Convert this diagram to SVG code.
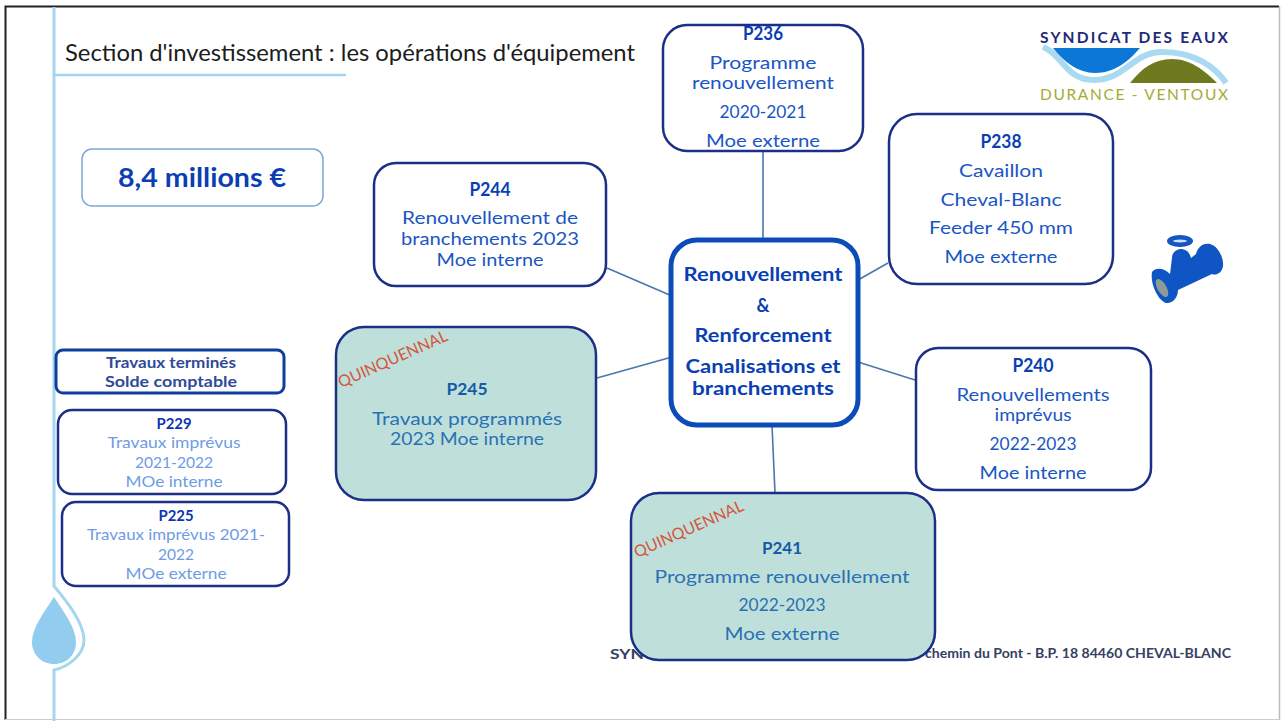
<svg xmlns="http://www.w3.org/2000/svg" width="1283" height="721" viewBox="0 0 1283 721">
<style>
text{font-family:"Lato","Liberation Sans",sans-serif;text-anchor:middle}
.box{fill:#fff;stroke:#1b2f86;stroke-width:2.5}
.green{fill:#bfe0da;stroke:#1b2f86;stroke-width:2.5}
.t{font-size:17.5px;fill:#1a56c4}
.h{font-size:18px;font-weight:700;fill:#0a3fb4}
.g{font-size:17.5px;fill:#2a71b4}
.gh{font-size:17px;font-weight:700;fill:#155aa8}
.s{font-size:15px;fill:#6f9be6}
.sh{font-size:15.5px;font-weight:700;fill:#0a35b4}
.c{font-size:18px;font-weight:700;fill:#0a3fb4}
.q{font-size:16px;fill:#d4573f}
.conn{stroke:#4a77ad;stroke-width:1.6;fill:none}
</style>
<rect width="1283" height="721" fill="#fff"/>
<g id="frame" fill="none">
<path d="M5.500 720V6.500H1279" stroke="#222" stroke-width="2"/>
<path d="M1279.500 6V720" stroke="#bbb" stroke-width="1.500"/>
<path d="M5 719.500H1280" stroke="#ccc" stroke-width="1"/>
</g>
<g id="decor">
<path d="M54 7V586C64 598 84 622 84 640C84 655 68 667 54 670V721" fill="none" stroke="#a5d6ef" stroke-width="3"/>
<path d="M54 75H346" fill="none" stroke="#a5d6ef" stroke-width="2.500"/>
<path d="M54 597C44 612 32 628 32 642C32 655 42 664 54 664C67 664 76 655 76 642C76 628 64 612 54 597Z" fill="#92cdf0"/>
</g>
<text x="350" y="61" style="font-size:23px;fill:#1c1c1c" textLength="570" lengthAdjust="spacingAndGlyphs">Section d'investissement : les opérations d'équipement</text>
<g id="logo">
<path d="M1043 47C1062 54 1066 80 1093 80C1126 80 1132 52 1162 52C1196 52 1216 68 1226 83" fill="none" stroke="#a9daf2" stroke-width="6"/>
<path d="M1053 48H1140C1128 62 1114 73 1095 73C1078 73 1064 62 1053 48Z" fill="#0b78d8"/>
<path d="M1130 83C1142 68 1154 59 1172 59C1190 59 1204 70 1217 83Z" fill="#6f7a1e"/>
<text x="1134" y="43" textLength="188" style="font-size:15.500px;font-weight:700;fill:#1f2a7a">SYNDICAT DES EAUX</text>
<text x="1134" y="100" textLength="188" style="font-size:15.500px;fill:#a5ab33">DURANCE - VENTOUX</text>
</g>
<g id="valve">
<ellipse cx="1180" cy="241" rx="13" ry="6" fill="#1456c4"/>
<ellipse cx="1180" cy="241" rx="7" ry="1.500" fill="#cfe0f7"/>
<path d="M1152 272C1156 267 1164 268 1170 274L1172 258C1172 251 1178 249 1182 249C1188 250 1190 254 1191 258L1196 254C1198 246 1204 243 1210 244C1218 246 1224 258 1223 266C1222 273 1216 276 1212 274L1178 290C1178 298 1172 304 1166 303C1158 300 1150 284 1152 272Z" fill="#0f55c4"/>
<ellipse cx="1162" cy="288" rx="4.500" ry="10" transform="rotate(-30 1162 288)" fill="#8e9a96"/>
</g>
<g id="connectors" class="conn">
<path d="M763 151V240"/>
<path d="M607 268L672 296"/>
<path d="M888 263L858 280"/>
<path d="M597 378L672 357"/>
<path d="M915 380L858 362"/>
<path d="M772 425L775 493"/>
</g>
<g id="legend-value"><rect x="82" y="149" width="241" height="57" rx="10" fill="#fff" stroke="#7ea6d6" stroke-width="1.500"/>
<text x="202" y="187" textLength="168" lengthAdjust="spacingAndGlyphs" style="font-size:26px;font-weight:700;fill:#0a3fb4">8,4  millions €</text></g>
<g id="P236"><rect class="box" x="663" y="25" width="200" height="126" rx="24"/>
<text class="h" x="763" y="40" textLength="40" lengthAdjust="spacingAndGlyphs">P236</text><text class="t" x="763" y="69" textLength="107" lengthAdjust="spacingAndGlyphs">Programme</text><text class="t" x="763" y="89" textLength="142" lengthAdjust="spacingAndGlyphs">renouvellement</text><text class="t" x="763" y="118" textLength="87" lengthAdjust="spacingAndGlyphs">2020-2021</text><text class="t" x="763" y="147" textLength="114" lengthAdjust="spacingAndGlyphs">Moe externe</text></g>
<g id="P238"><rect class="box" x="889" y="114" width="224" height="170" rx="28"/>
<text class="h" x="1001" y="148" textLength="41" lengthAdjust="spacingAndGlyphs">P238</text><text class="t" x="1001" y="177" textLength="84" lengthAdjust="spacingAndGlyphs">Cavaillon</text><text class="t" x="1001" y="206" textLength="121" lengthAdjust="spacingAndGlyphs">Cheval-Blanc</text><text class="t" x="1001" y="234" textLength="144" lengthAdjust="spacingAndGlyphs">Feeder  450 mm</text><text class="t" x="1001" y="263" textLength="113" lengthAdjust="spacingAndGlyphs">Moe externe</text></g>
<g id="P244"><rect class="box" x="374" y="163" width="232" height="123" rx="22"/>
<text class="h" x="490" y="196" textLength="41" lengthAdjust="spacingAndGlyphs">P244</text><text class="t" x="490" y="224" textLength="176" lengthAdjust="spacingAndGlyphs">Renouvellement de</text><text class="t" x="490" y="245" textLength="178" lengthAdjust="spacingAndGlyphs">branchements 2023</text><text class="t" x="490" y="266" textLength="107" lengthAdjust="spacingAndGlyphs">Moe interne</text></g>
<g id="center"><rect x="671" y="240" width="187" height="185" rx="26" fill="#fff" stroke="#0c4cb8" stroke-width="5"/>
<text class="c" x="763" y="281" textLength="159" lengthAdjust="spacingAndGlyphs">Renouvellement</text><text class="c" x="763" y="312">&amp;</text><text class="c" x="763" y="342" textLength="137" lengthAdjust="spacingAndGlyphs">Renforcement</text><text class="c" x="763" y="373" textLength="155" lengthAdjust="spacingAndGlyphs">Canalisations et</text><text class="c" x="763" y="395" textLength="142" lengthAdjust="spacingAndGlyphs">branchements</text></g>
<g id="P240"><rect class="box" x="916" y="348" width="235" height="142" rx="22"/>
<text class="h" x="1033" y="372" textLength="41" lengthAdjust="spacingAndGlyphs">P240</text><text class="t" x="1033" y="401" textLength="153" lengthAdjust="spacingAndGlyphs">Renouvellements</text><text class="t" x="1033" y="421" textLength="77" lengthAdjust="spacingAndGlyphs">imprévus</text><text class="t" x="1033" y="450" textLength="87" lengthAdjust="spacingAndGlyphs">2022-2023</text><text class="t" x="1033" y="479" textLength="107" lengthAdjust="spacingAndGlyphs">Moe interne</text></g>
<g id="P245"><rect class="green" x="336" y="327" width="260" height="173" rx="28"/>
<text class="q" x="395" y="364" transform="rotate(-24 395 364)" textLength="118" lengthAdjust="spacingAndGlyphs">QUINQUENNAL</text>
<text class="gh" x="467" y="395" textLength="41" lengthAdjust="spacingAndGlyphs">P245</text><text class="g" x="467" y="425" textLength="190" lengthAdjust="spacingAndGlyphs">Travaux programmés</text><text class="g" x="467" y="445" textLength="154" lengthAdjust="spacingAndGlyphs">2023 Moe interne</text></g>
<text id="footer-left" x="627" y="659" textLength="34" lengthAdjust="spacingAndGlyphs" style="font-size:13px;font-weight:700;fill:#34415f">SYN</text>
<text id="footer-right" x="1078" y="658" textLength="306" lengthAdjust="spacingAndGlyphs" style="font-size:12.500px;font-weight:700;fill:#34415f">chemin du Pont - B.P. 18 84460 CHEVAL-BLANC</text>
<g id="P241"><rect class="green" x="631" y="493" width="304" height="167" rx="28"/>
<text class="q" x="691" y="534" transform="rotate(-24 691 534)" textLength="118" lengthAdjust="spacingAndGlyphs">QUINQUENNAL</text>
<text class="gh" x="782" y="554" textLength="40" lengthAdjust="spacingAndGlyphs">P241</text><text class="g" x="782" y="583" textLength="255" lengthAdjust="spacingAndGlyphs">Programme renouvellement</text><text class="g" x="782" y="611" textLength="87" lengthAdjust="spacingAndGlyphs">2022-2023</text><text class="g" x="782" y="640" textLength="115" lengthAdjust="spacingAndGlyphs">Moe externe</text></g>
<g id="legend-done"><rect x="56" y="350" width="228" height="43" rx="7" fill="#fff" stroke="#0f3f9e" stroke-width="3"/>
<text x="171" y="368" textLength="130" lengthAdjust="spacingAndGlyphs" style="font-size:15px;font-weight:700;fill:#2f4a98">Travaux terminés</text><text x="171" y="387" textLength="132" lengthAdjust="spacingAndGlyphs" style="font-size:15px;font-weight:700;fill:#2f4a98">Solde comptable</text></g>
<g id="P229"><rect class="box" x="58" y="410" width="228" height="84" rx="14"/>
<text class="sh" x="174" y="429" textLength="35" lengthAdjust="spacingAndGlyphs">P229</text><text class="s" x="174" y="448" textLength="133" lengthAdjust="spacingAndGlyphs">Travaux imprévus</text><text class="s" x="174" y="468" textLength="78" lengthAdjust="spacingAndGlyphs">2021-2022</text><text class="s" x="174" y="487" textLength="97" lengthAdjust="spacingAndGlyphs">MOe interne</text></g>
<g id="P225"><rect class="box" x="62" y="502" width="227" height="84" rx="14"/>
<text class="sh" x="176" y="521" textLength="35" lengthAdjust="spacingAndGlyphs">P225</text><text class="s" x="176" y="540" textLength="178" lengthAdjust="spacingAndGlyphs">Travaux imprévus 2021-</text><text class="s" x="176" y="560" textLength="36" lengthAdjust="spacingAndGlyphs">2022</text><text class="s" x="176" y="579" textLength="101" lengthAdjust="spacingAndGlyphs">MOe externe</text></g>
</svg>
